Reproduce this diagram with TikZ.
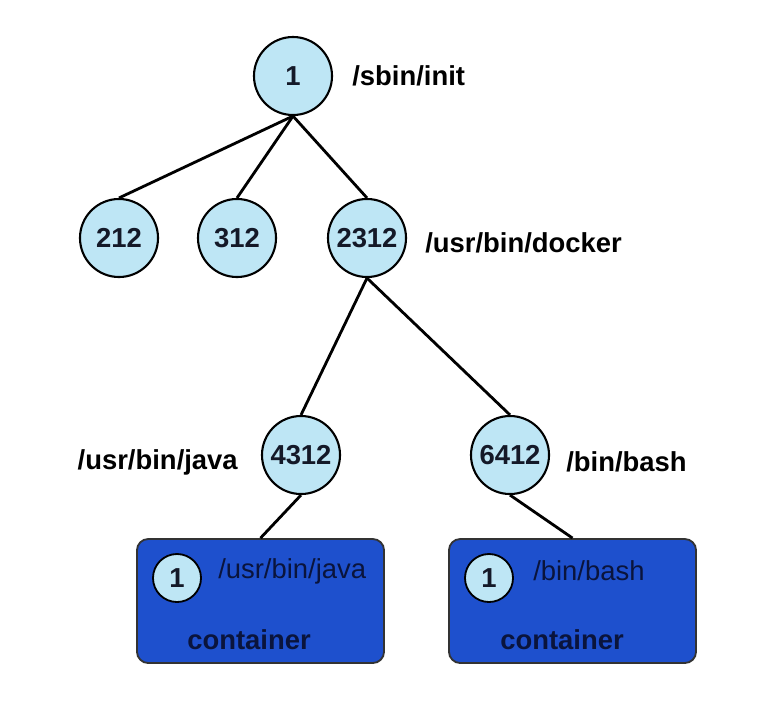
\documentclass[tikz,border=0pt]{standalone}
\usepackage{fontspec}
\setmainfont{Liberation Sans}
\usepackage{tikz}

\definecolor{procfill}{RGB}{190,230,245}
\definecolor{boxfill}{RGB}{30,80,205}
\definecolor{boxtext}{RGB}{10,20,60}
\definecolor{numtext}{RGB}{20,25,40}

\begin{document}
\begin{tikzpicture}[x=0.025cm, y=-0.025cm,
    proc/.style={circle, draw=black, line width=1.5pt, fill=procfill,
      minimum size=1.95cm, inner sep=0pt, text=numtext,
      font=\fontsize{19.5}{23}\selectfont\bfseries},
    subproc/.style={circle, draw=black, line width=1.3pt, fill=procfill,
      minimum size=1.2cm, inner sep=0pt, text=numtext,
      font=\fontsize{19.5}{23}\selectfont\bfseries},
    cbox/.style={rectangle, rounded corners=8pt, draw=black!80,
      line width=1.3pt, fill=boxfill,
      minimum width=6.175cm, minimum height=3.1cm},
    lbl/.style={font=\fontsize{19.5}{23}\selectfont\bfseries, inner sep=0pt},
    boxlbl/.style={font=\fontsize{19.5}{23}\selectfont, text=boxtext, inner sep=0pt},
    link/.style={line width=2pt}]
    \useasboundingbox (0, 0) rectangle (760, 718);

    % root
    \node[proc](n1) at (293, 76){1};
    \node[lbl, anchor=west](init) at (352, 76){/sbin/init};

    % second level
    \node[proc](n212) at (119, 238){212};
    \node[proc](n312) at (237, 238){312};
    \node[proc](n2312) at (367, 238){2312};
    \node[lbl, anchor=west](docker) at (425, 243){/usr/bin/docker};

    % third level
    \node[proc](n4312) at (301, 455){4312};
    \node[lbl, anchor=east](java) at (238, 462){/usr/bin/java};
    \node[proc](n6412) at (510, 455){6412};
    \node[lbl, anchor=west](bash) at (566, 462){/bin/bash};

    % container 1
    \node[cbox](c1) at (260.5, 601){};
    \node[subproc](c1p) at (177, 578){1};
    \node[boxlbl, anchor=west](c1cmd) at (218, 571){/usr/bin/java};
    \node[boxlbl, font=\fontsize{19.5}{23}\selectfont\bfseries, anchor=west](c1name) at (187, 640){container};

    % container 2
    \node[cbox](c2) at (572.5, 601){};
    \node[subproc](c2p) at (489, 578){1};
    \node[boxlbl, anchor=west](c2cmd) at (533, 571){/bin/bash};
    \node[boxlbl, font=\fontsize{19.5}{23}\selectfont\bfseries, anchor=west](c2name) at (500, 640){container};

    % tree edges
    \draw[link] (n1.south) -- (n212.north);
    \draw[link] (n1.south) -- (n312.north);
    \draw[link] (n1.south) -- (n2312.north);
    \draw[link] (n2312.south) -- (n4312.north);
    \draw[link] (n2312.south) -- (n6412.north);
    \draw[link] (n4312.south) -- (c1.north);
    \draw[link] (n6412.south) -- (c2.north);
  \end{tikzpicture}
\end{document}
